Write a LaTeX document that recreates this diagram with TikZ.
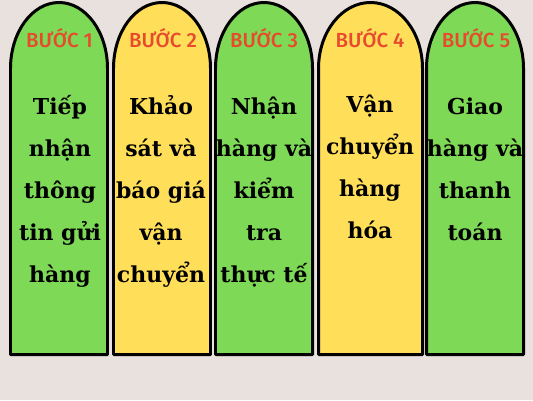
\documentclass[tikz,border=0pt]{standalone}
\usepackage{fontspec}
\setmainfont{DejaVu Serif}
\newfontfamily\labelfont{Fira Sans Medium}
\usetikzlibrary{positioning}
\definecolor{archgreen}{RGB}{126,217,87}
\definecolor{archyellow}{RGB}{255,222,89}
\definecolor{labelred}{RGB}{232,74,46}
\definecolor{backdrop}{RGB}{232,225,221}

\begin{document}
\begin{tikzpicture}[x=0.02cm,y=0.02cm,
	arch/.style={draw=black,line width=1.7pt,line join=round},
	steplabel/.style={text=labelred,anchor=base,inner sep=0pt,font=\labelfont\fontsize{11.6}{13}\selectfont},
	steptext/.style={align=center,anchor=base,inner sep=0pt,font=\bfseries\fontsize{12.5}{23.9}\selectfont}]
		\fill[backdrop] (0,0) rectangle (533,400);
		
		% arches
		\draw[arch,fill=archgreen] (10.5,45.5) -- (10.5,331.5) arc[start angle=180,end angle=0,x radius=48.5,y radius=66] -- (107.5,45.5) -- cycle;
		\draw[arch,fill=archyellow] (113.5,45.5) -- (113.5,331.5) arc[start angle=180,end angle=0,x radius=48.5,y radius=66] -- (210.5,45.5) -- cycle;
		\draw[arch,fill=archgreen] (215.5,45.5) -- (215.5,331.5) arc[start angle=180,end angle=0,x radius=48.5,y radius=66] -- (312.5,45.5) -- cycle;
		\draw[arch,fill=archyellow] (318.5,45.5) -- (318.5,331.5) arc[start angle=180,end angle=0,x radius=52,y radius=66] -- (422.5,45.5) -- cycle;
		\draw[arch,fill=archgreen] (426.5,45.5) -- (426.5,331.5) arc[start angle=180,end angle=0,x radius=48.5,y radius=66] -- (523.5,45.5) -- cycle;
		
		% step labels
		\node[steplabel] (buoc1) at (59.5,353) {BƯỚC 1};
		\node[steplabel] (buoc2) at (163,353) {BƯỚC 2};
		\node[steplabel] (buoc3) at (264,353) {BƯỚC 3};
		\node[steplabel] (buoc4) at (370,353) {BƯỚC 4};
		\node[steplabel] (buoc5) at (476,353) {BƯỚC 5};
		
		% step texts (anchored at the last line)
		\node[steptext] (text1) at (60,118) {Tiếp\\nhận\\thông\\tin gửi\\hàng};
		\node[steptext] (text2) at (161,118) {Khảo\\sát và\\báo giá\\vận\\chuyển};
		\node[steptext] (text3) at (264,118) {Nhận\\hàng và\\kiểm\\tra\\thực tế};
		\node[steptext] (text4) at (370,162) {Vận\\chuyển\\hàng\\hóa};
		\node[steptext] (text5) at (475,160) {Giao\\hàng và\\thanh\\toán};
\end{tikzpicture}
\end{document}
